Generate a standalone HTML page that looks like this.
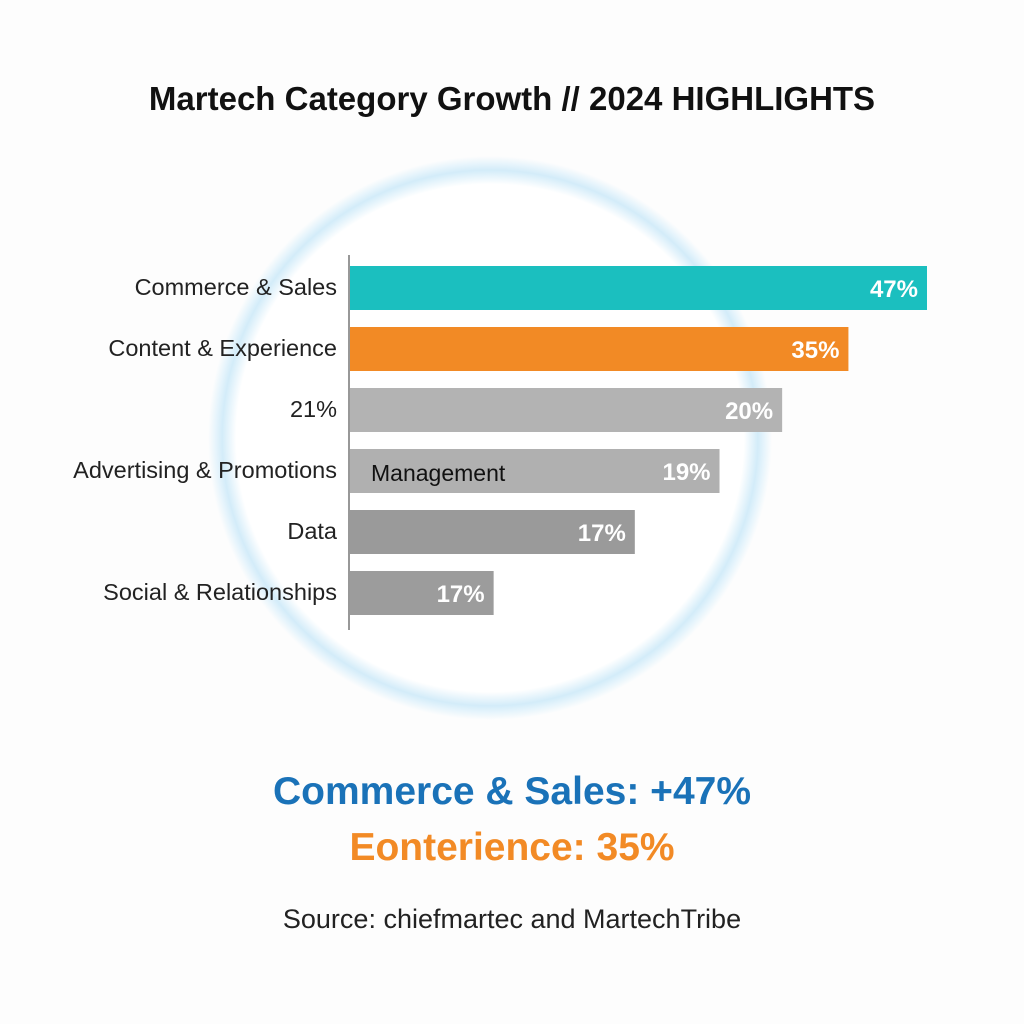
<!DOCTYPE html>
<html><head><meta charset="utf-8"><style>
body{margin:0;width:1024px;height:1024px;background:#fdfdfd;font-family:"Liberation Sans",sans-serif;overflow:hidden;position:relative}
.t{position:absolute;left:0;width:1024px;text-align:center}
</style></head><body>
<div class="t" style="top:80px;font-size:33px;font-weight:bold;color:#111">Martech Category Growth // 2024 HIGHLIGHTS</div>
<svg id="chart" width="1024" height="1024" style="position:absolute;left:0;top:0" xmlns="http://www.w3.org/2000/svg">
<defs><radialGradient id="glow" cx="0.5" cy="0.5" r="0.5">
<stop offset="0.9" stop-color="#ffffff"/><stop offset="0.95" stop-color="#d3ecf9"/><stop offset="0.975" stop-color="#e8f5fc"/><stop offset="1" stop-color="#fdfdfd"/></radialGradient></defs>
<circle cx="490" cy="438" r="282" fill="url(#glow)"/>
<g id="bars"></g>
<line x1="349" y1="255" x2="349" y2="630" stroke="#777" stroke-width="1.5"/>
</svg>
<div class="t" style="top:770px;font-size:39px;font-weight:bold;color:#1a72b8">Commerce &amp; Sales: +47%</div>
<div class="t" style="top:826px;font-size:39px;font-weight:bold;color:#f28a25">Eonterience: 35%</div>
<div class="t" style="top:904px;font-size:27px;color:#222">Source: chiefmartec and MartechTribe</div>
<script>
const categories=["Commerce & Sales","Content & Experience","21%","Advertising & Promotions","Data","Social & Relationships"];
const barValues=[47,40.6,35.2,30.1,23.2,11.7];
const valueLabels=["47%","35%","20%","19%","17%","17%"];
const colors=["#1bbfbf","#f28a25","#b3b3b3","#b0b0b0","#9a9a9a","#9c9c9c"];
const NS="http://www.w3.org/2000/svg";
const x=v=>350+v*(577/47);
const y=i=>266+i*61;
const g=document.getElementById('bars');
categories.forEach((c,i)=>{
 const r=document.createElementNS(NS,'rect');
 
 
 r.setAttribute('x',350);r.setAttribute('y',y(i));
 r.setAttribute('width',x(barValues[i])-350);r.setAttribute('height',44);
 r.setAttribute('fill',colors[i]);g.appendChild(r);
 const l=document.createElementNS(NS,'text');
 
 
 l.setAttribute('x',337);l.setAttribute('y',y(i)+29);l.setAttribute('text-anchor','end');
 l.setAttribute('font-size','23.5');l.setAttribute('fill','#222');l.textContent=c;g.appendChild(l);
 const v=document.createElementNS(NS,'text');
 
 
 v.setAttribute('x',x(barValues[i])-9);v.setAttribute('y',y(i)+31);v.setAttribute('text-anchor','end');
 v.setAttribute('font-size','24');v.setAttribute('font-weight','bold');v.setAttribute('fill','#fff');v.textContent=valueLabels[i];g.appendChild(v);
});
const m=document.createElementNS(NS,'text');


m.setAttribute('x',371);m.setAttribute('y',y(3)+32);m.setAttribute('font-size','23');m.setAttribute('fill','#111');m.textContent="Management";g.appendChild(m);
</script>
</body></html>
